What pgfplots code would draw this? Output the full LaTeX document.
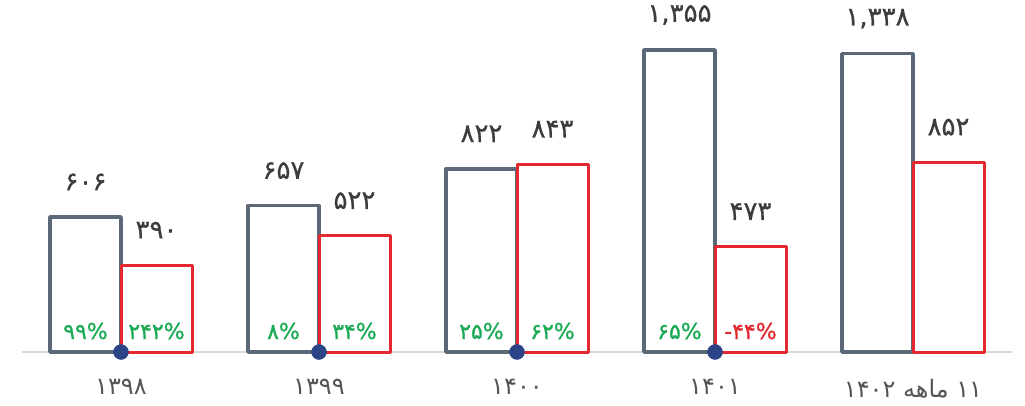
\documentclass[border=0pt]{standalone}
\usepackage{fontspec}
\usepackage{pgfplots}
\pgfplotsset{compat=1.18}
\TeXXeTstate=1
\newfontfamily\fa[Script=Arabic]{DejaVu Sans}
\newfontfamily\fad{DejaVu Sans}
\newfontfamily\fab[FakeBold=0.7]{DejaVu Sans}
\newfontfamily\fap[FakeBold=1.0]{DejaVu Sans}
\definecolor{slate}{HTML}{5B6877}
\definecolor{rd}{HTML}{E3282F}
\definecolor{gr}{HTML}{1BAA55}
\definecolor{navy}{HTML}{2B4488}
\definecolor{txt}{HTML}{3C3C3C}
\definecolor{lbl}{HTML}{555555}
\begin{document}
\begin{tikzpicture}
\useasboundingbox (0,0) rectangle (1025pt,405pt);
\begin{axis}[at={(22pt,53pt)}, anchor=south west, scale only axis,
  width=990pt, height=352pt, xmin=-0.5, xmax=4.5, ymin=0, ymax=1579,
  clip=false, axis x line*=bottom, hide y axis,
  axis line style={draw=black!15, line width=1.5pt},
  xtick={0,1,2,3,4}, major tick length=0pt,
  xticklabels={{\fad ۱۳۹۸},{\fad ۱۳۹۹},{\fad ۱۴۰۰},{\fad ۱۴۰۱},{\fad ۱۴۰۲ \fa\beginR ماهه\endR{} \fad ۱۱}},
  xticklabel style={font=\fad\fontsize{24}{28}\selectfont, text=lbl, yshift=-24pt},
]
\addplot[ybar, bar width=71pt, bar shift=-35.5pt, draw=slate, line width=3.5pt, line join=round, fill=white,
  nodes near coords, point meta=explicit symbolic,
  nodes near coords style={font=\fab\fontsize{26}{30}\selectfont, text=txt, anchor=center, yshift=35pt, xshift=-35.5pt}]
  coordinates {(0,606)[۶۰۶] (1,657)[۶۵۷] (2,822)[۸۲۲] (3,1355)[۱,۳۵۵] (4,1338)[۱,۳۳۸]};
\addplot[ybar, bar width=71pt, bar shift=35.5pt, draw=rd, line width=3pt, line join=round, fill=white,
  nodes near coords, point meta=explicit symbolic,
  nodes near coords style={font=\fab\fontsize{26}{30}\selectfont, text=txt, anchor=center, yshift=35pt, xshift=35.5pt}]
  coordinates {(0,390)[۳۹۰] (1,522)[۵۲۲] (2,843)[۸۴۳] (3,473)[۴۷۳] (4,852)[۸۵۲]};
\addplot[ybar, bar width=71pt, bar shift=-35.5pt, draw=none, fill=none,
  nodes near coords, point meta=explicit symbolic,
  nodes near coords style={font=\fap\fontsize{22}{26}\selectfont, text=gr, anchor=center, yshift=21pt, xshift=-35.5pt}]
  coordinates {(0,0)[۹۹\%] (1,0)[۸\%] (2,0)[۲۵\%] (3,0)[۶۵\%]};
\addplot[ybar, bar width=71pt, bar shift=35.5pt, draw=none, fill=none,
  nodes near coords, point meta=explicit symbolic,
  nodes near coords style={font=\fap\fontsize{22}{26}\selectfont, text=gr, anchor=center, yshift=21pt, xshift=35.5pt}]
  coordinates {(0,0)[۲۴۲\%] (1,0)[۳۴\%] (2,0)[۶۲\%]};
\addplot[ybar, bar width=71pt, bar shift=35.5pt, draw=none, fill=none,
  nodes near coords, point meta=explicit symbolic,
  nodes near coords style={font=\fap\fontsize{22}{26}\selectfont, text=rd, anchor=center, yshift=21pt, xshift=35.5pt}]
  coordinates {(3,0)[-۴۴\%]};
\addplot[only marks, mark=*, mark size=7.5pt, color=navy] coordinates {(0,0) (1,0) (2,0) (3,0)};
\end{axis}
\end{tikzpicture}
\end{document}
